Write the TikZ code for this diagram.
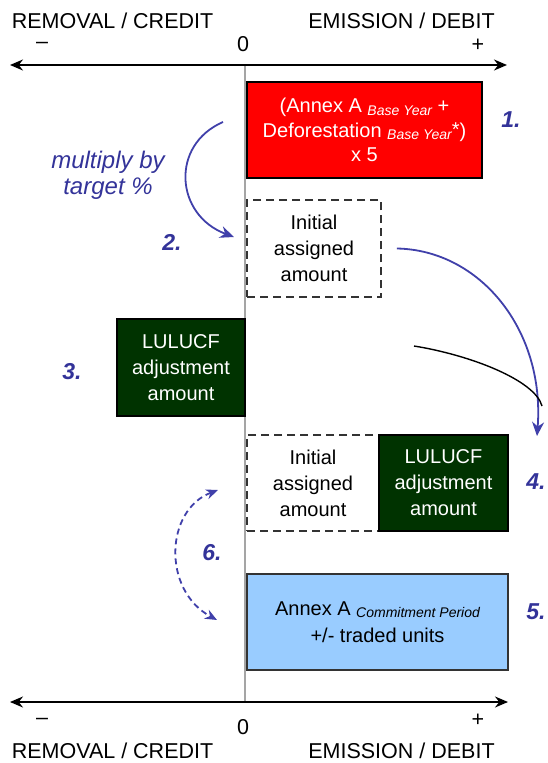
\documentclass[tikz,border=0pt]{standalone}
\usepackage{fontspec}
\setmainfont{Liberation Sans}
\usetikzlibrary{arrows.meta}
\definecolor{redbox}{RGB}{255,0,0}
\definecolor{greenbox}{RGB}{0,51,0}
\definecolor{bluebox}{RGB}{153,204,255}
\definecolor{arrowblue}{RGB}{64,64,170}
\definecolor{labelblue}{RGB}{51,51,153}
\definecolor{axisgray}{RGB}{165,165,165}
\newcommand{\sbs}[1]{\raisebox{-2.5pt}{\fontsize{14}{14}\selectfont\itshape #1}}
\begin{document}
\begin{tikzpicture}[x=1pt,y=-1pt,
  boxbase/.style={line width=1.6pt, inner sep=0pt, align=center,
    font=\fontsize{20}{26}\selectfont, minimum height=96pt},
  redstyle/.style={boxbase, draw=black, fill=redbox, text=white,
    font=\fontsize{20}{24.5}\selectfont},
  greenstyle/.style={boxbase, draw=black, fill=greenbox, text=white},
  dashstyle/.style={boxbase, draw=black!80, fill=white, dash pattern=on 8pt off 5pt},
  bluestyle/.style={boxbase, draw=black!80, fill=bluebox, text=black,
    font=\fontsize{20}{27}\selectfont},
  numlabel/.style={text=labelblue, inner sep=0pt, font=\fontsize{23}{23}\selectfont\bfseries\itshape},
  axislabel/.style={inner sep=0pt, font=\fontsize{21.5}{21.5}\selectfont},
  bluearrow/.style={draw=arrowblue, line width=1.8pt, -{Stealth[length=14pt,width=12pt]}},
  dasharrow/.style={draw=arrowblue, line width=1.8pt, dash pattern=on 6pt off 4pt,
    {Stealth[length=12pt,width=10pt]}-{Stealth[length=12pt,width=10pt]}},
  axisline/.style={line width=1.5pt, {Stealth[length=13pt,width=11pt]}-{Stealth[length=13pt,width=11pt]}}
]
\useasboundingbox (0,0) rectangle (547,763);

% axes and zero line
\coordinate (tl) at (10,65);
\coordinate (tr) at (507,65);
\coordinate (bl) at (10,702);
\coordinate (br) at (508,702);
\coordinate (zt) at (245,65);
\coordinate (zb) at (245,702);
\draw[draw=axisgray, line width=2pt] (zt) -- (zb);
\draw[axisline] (tl) -- (tr);
\draw[axisline] (bl) -- (br);

% axis labels
\node[axislabel] (tremoval) at (112.5,21) {REMOVAL / CREDIT};
\node[axislabel] (temission) at (401.5,21) {EMISSION / DEBIT};
\node[axislabel] (tminus) at (42,45) {–};
\node[axislabel] (tzero) at (243,44) {0};
\node[axislabel] (tplus) at (478,45) {+};
\node[axislabel] (bremoval) at (112.5,751) {REMOVAL / CREDIT};
\node[axislabel] (bemission) at (401.5,751) {EMISSION / DEBIT};
\node[axislabel] (bminus) at (42,721) {–};
\node[axislabel] (bzero) at (243,727) {0};
\node[axislabel] (bplus) at (478,720) {+};

% boxes
\node[redstyle, minimum width=235pt] (base) at (364.5,130)
  {(Annex A \sbs{Base Year} +\\Deforestation \sbs{Base Year}\raisebox{1pt}{*})\\x 5};
\node[dashstyle, minimum width=134pt, minimum height=97pt] (iaa1) at (314,248.5)
  {Initial\\assigned\\amount};
\node[greenstyle, minimum width=128pt, minimum height=97pt] (lul1) at (181,367.5)
  {LULUCF\\adjustment\\amount};
\node[dashstyle, minimum width=132pt] (iaa2) at (313,483)
  {Initial\\assigned\\amount};
\node[greenstyle, minimum width=129pt] (lul2) at (443.5,483)
  {LULUCF\\adjustment\\amount};
\node[bluestyle, minimum width=261pt] (cp) at (377.5,622)
  {Annex A \sbs{Commitment Period}\\+/- traded units};

% step numbers
\node[numlabel] (n1) at (511,120) {1.};
\node[numlabel] (n2) at (172,242) {2.};
\node[numlabel] (n3) at (72,372) {3.};
\node[numlabel] (n4) at (536,482) {4.};
\node[numlabel] (n5) at (536,612) {5.};
\node[numlabel] (n6) at (212,553) {6.};

% multiply label
\node[text=labelblue, align=center, inner sep=0pt,
  font=\fontsize{24}{26}\selectfont\itshape] (mult) at (108,175) {multiply by\\target \%};

% connectors
\coordinate (m1) at (223,122);
\coordinate (m2) at (234,237);
\draw[bluearrow] (m1) .. controls (170,145) and (175,215) .. (m2);

\coordinate (a1) at ([xshift=15pt]iaa1.east);
\coordinate (a2) at (537,436);
\draw[bluearrow] (a1) .. controls (480,250) and (545,330) .. (a2);

\coordinate (k1) at (414,346);
\coordinate (k2) at (542,406);
\draw[line width=1.4pt] (k1) .. controls (470,355) and (535,380) .. (k2);

\coordinate (d1) at (218,490);
\coordinate (d2) at (217,620);
\draw[dasharrow] (d1) .. controls (165,510) and (162,590) .. (d2);
\end{tikzpicture}
\end{document}
